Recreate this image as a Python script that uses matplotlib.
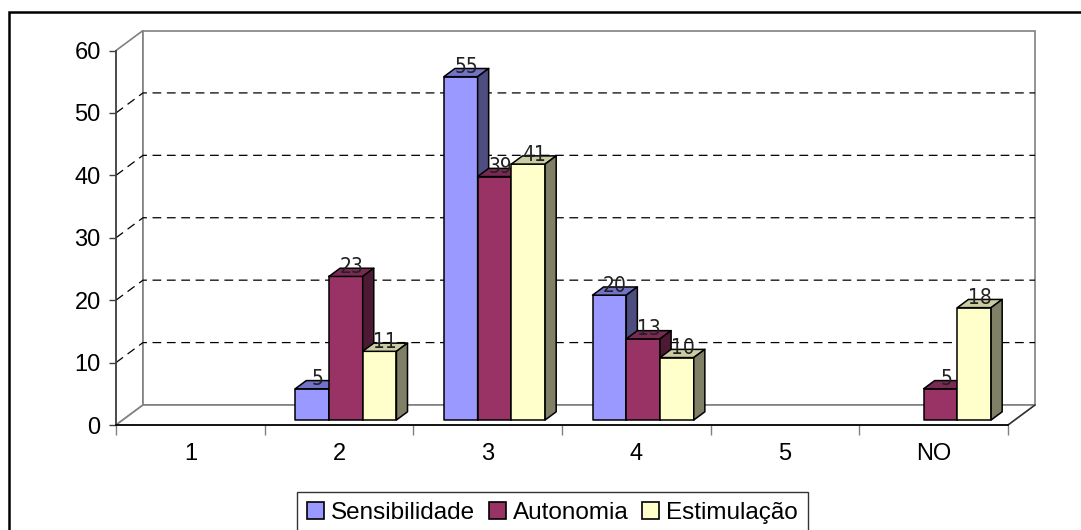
import matplotlib
matplotlib.use("Agg")
import matplotlib.pyplot as plt
from matplotlib.patches import Polygon, Rectangle, Patch
from matplotlib import font_manager

# ---- data ----
categories = ["1", "2", "3", "4", "5", "NO"]
series_names = ["Sensibilidade", "Autonomia", "Estimulação"]
sensibilidade = [0, 5, 55, 20, 0, 0]
autonomia = [0, 23, 39, 13, 0, 5]
estimulacao = [0, 11, 41, 10, 0, 18]
y_ticks = [0, 10, 20, 30, 40, 50, 60]

series_values = [sensibilidade, autonomia, estimulacao]
front_colors = ["#9999FF", "#993366", "#FFFFCC"]
top_colors = ["#7272C8", "#7A2952", "#CCCCA3"]
side_colors = ["#4D4D80", "#4D1A33", "#808066"]

W, H = 1081, 530
fig = plt.figure(figsize=(W / 100, H / 100), dpi=100)
fig.patch.set_facecolor("white")

base_font = "Liberation Sans"
try:
    font_manager.findfont("Liberation Sans Narrow", fallback_to_default=False)
    narrow_font = "Liberation Sans Narrow"
    narrow_stretch = "normal"
except Exception:
    narrow_font = "DejaVu Sans"
    narrow_stretch = "condensed"

x_left, x_right = 116, 1008
y_zero, y_top = 425, 50.5
ax = fig.add_axes([x_left / W, 1 - y_zero / H, (x_right - x_left) / W, (y_zero - y_top) / H])
n = len(categories)
ax.set_xlim(0, n)
ax.set_ylim(0, 60)
ax.patch.set_visible(False)

# depth offsets in data units
px_x = (x_right - x_left) / n
px_y = (y_zero - y_top) / 60
DX = 27 / px_x
DY = 20 / px_y

def P(x, y, d):
    return (x + d * DX, y + d * DY)

wall_ec = "#808080"
# side wall
ax.add_patch(Polygon([P(0, 0, 0), P(0, 60, 0), P(0, 60, 1), P(0, 0, 1)], closed=True,
                     fc="white", ec=wall_ec, lw=1.2, clip_on=False, zorder=1))
# back wall
ax.add_patch(Polygon([P(0, 0, 1), P(n, 0, 1), P(n, 60, 1), P(0, 60, 1)], closed=True,
                     fc="white", ec=wall_ec, lw=1.2, clip_on=False, zorder=1))
# floor
ax.add_patch(Polygon([P(0, 0, 0), P(n, 0, 0), P(n, 0, 1), P(0, 0, 1)], closed=True,
                     fc="white", ec=wall_ec, lw=1.2, clip_on=False, zorder=1))
# floor right diagonal darker
fx, fy = zip(P(n, 0, 0), P(n, 0, 1))
ax.plot(fx, fy, color="#303030", lw=1, clip_on=False, zorder=1.5)

# gridlines
for v in y_ticks[1:-1]:
    pts = [P(0, v, 0), P(0, v, 1), P(n, v, 1)]
    xs, ys = zip(*pts)
    ax.plot(xs, ys, color="black", lw=0.9, ls=(0, (7, 4.5)), clip_on=False, zorder=2)

# bars
d0, d1 = 0.25, 0.66
offset, bw = 0.16, 0.227
labels_to_draw = []
for j in range(n):
    for i, vals in enumerate(series_values):
        v = vals[j]
        if v <= 0:
            continue
        x0 = j + offset + i * bw
        x1 = x0 + bw
        front = [P(x0, 0, d0), P(x1, 0, d0), P(x1, v, d0), P(x0, v, d0)]
        top = [P(x0, v, d0), P(x1, v, d0), P(x1, v, d1), P(x0, v, d1)]
        side = [P(x1, 0, d0), P(x1, v, d0), P(x1, v, d1), P(x1, 0, d1)]
        z = 3 + j * 0.1 + i * 0.01
        for poly, c in ((front, front_colors[i]), (top, top_colors[i]), (side, side_colors[i])):
            ax.add_patch(Polygon(poly, closed=True, fc=c, ec="black", lw=1.1,
                                 joinstyle="round", clip_on=False, zorder=z))
        lx, ly = P((x0 + x1) / 2, v, (d0 + d1) / 2)
        labels_to_draw.append((lx, ly, str(v)))

for lx, ly, t in labels_to_draw:
    ax.text(lx, ly - 0.1, t, ha="center", va="baseline", fontsize=15,
            family=narrow_font, stretch=narrow_stretch, color="#222222", zorder=10)

# axes styling
for s in ("top", "right"):
    ax.spines[s].set_visible(False)
ax.spines["left"].set_color("#404040")
ax.spines["left"].set_linewidth(1.2)
ax.spines["bottom"].set_color("black")
ax.spines["bottom"].set_linewidth(1.2)
ax.spines["left"].set_zorder(2.5)
ax.spines["bottom"].set_zorder(2.5)

ax.set_yticks(y_ticks)
ax.set_yticklabels([str(t) for t in y_ticks], family=base_font, fontsize=17)
ax.tick_params(axis="y", length=5, width=1, color="#404040", pad=6)

ax.set_xticks(range(n + 1))
ax.set_xticklabels([""] * (n + 1))
ax.set_xticks([k + 0.5 for k in range(n)], minor=True)
ax.set_xticklabels(categories, minor=True, family=base_font, fontsize=17)
ax.tick_params(axis="x", which="major", length=7, width=1, color="#808080")
ax.tick_params(axis="x", which="minor", length=0, pad=13)

# legend
handles = [Patch(fc=front_colors[i], ec="black", lw=1.2) for i in range(3)]
leg = fig.legend(handles, series_names, loc="upper left",
                 bbox_to_anchor=(297 / W, 1 - 492 / H), ncol=3, frameon=True,
                 fancybox=False, edgecolor="black",
                 prop={"family": base_font, "size": 17.5},
                 handlelength=0.7, handleheight=0.7, handletextpad=0.3,
                 columnspacing=0.55, borderpad=0.4, borderaxespad=0)
leg.get_frame().set_linewidth(1.0)

# outer chart border
fig.add_artist(Rectangle((9 / W, -0.2), 1.2, 1.2 - 12 / H, transform=fig.transFigure,
                         fill=False, ec="black", lw=1.8))

fig.savefig("out.png", dpi=100, facecolor="white")
